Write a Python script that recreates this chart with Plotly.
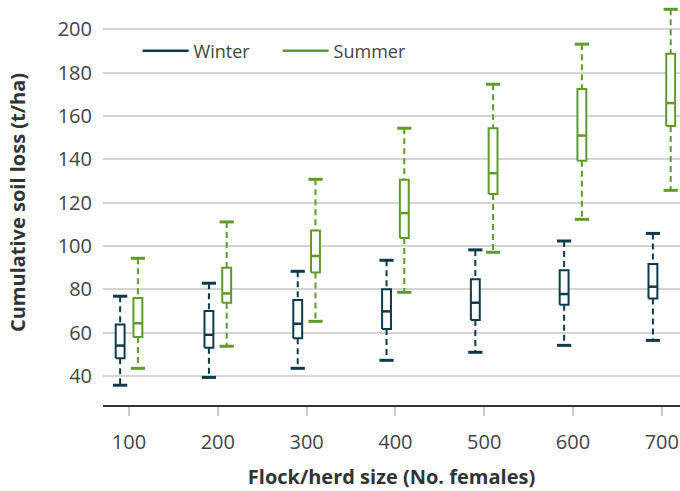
import plotly.graph_objects as go

categories = ["100", "200", "300", "400", "500", "600", "700"]

winter_low = [35.7, 39.3, 43.5, 47.2, 50.9, 54.1, 56.4]
winter_q1 = [48.1, 53.0, 57.4, 61.7, 65.8, 72.9, 75.8]
winter_med = [54.0, 59.0, 64.1, 69.8, 73.8, 77.8, 81.2]
winter_q3 = [63.7, 70.0, 75.1, 80.0, 84.6, 88.8, 91.7]
winter_high = [76.8, 82.8, 88.3, 93.4, 98.2, 102.3, 105.8]

summer_low = [43.5, 53.7, 65.2, 78.6, 97.1, 112.3, 125.7]
summer_q1 = [58.0, 73.8, 87.8, 103.7, 124.0, 139.4, 155.4]
summer_med = [64.3, 78.1, 95.4, 115.2, 133.6, 151.0, 166.0]
summer_q3 = [76.0, 90.0, 107.1, 130.6, 154.4, 172.5, 188.8]
summer_high = [94.3, 111.1, 130.8, 154.4, 174.7, 193.2, 209.3]

y_ticks = [40, 60, 80, 100, 120, 140, 160, 180, 200]

WINTER_COLOR = "#0e3b4b"
SUMMER_COLOR = "#5f9b2b"

OFFSET = 0.1
HALF_BOX = 0.05
HALF_CAP = 0.08

fig = go.Figure()


def add_series(name, color, low, q1, med, q3, high, off):
    wx, wy, cx, cy, bx, by, mx, my = [], [], [], [], [], [], [], []
    for i in range(len(categories)):
        c = i + off
        wx += [c, c, None, c, c, None]
        wy += [high[i], q3[i], None, q1[i], low[i], None]
        cx += [c - HALF_CAP, c + HALF_CAP, None, c - HALF_CAP, c + HALF_CAP, None]
        cy += [high[i], high[i], None, low[i], low[i], None]
        bx += [c - HALF_BOX, c + HALF_BOX, c + HALF_BOX, c - HALF_BOX, c - HALF_BOX, None]
        by += [q1[i], q1[i], q3[i], q3[i], q1[i], None]
        mx += [c - HALF_BOX, c + HALF_BOX, None]
        my += [med[i], med[i], None]
    fig.add_trace(go.Scatter(x=wx, y=wy, mode="lines", showlegend=False,
                             line=dict(color=color, width=2, dash="6px,4px"),
                             hoverinfo="skip"))
    fig.add_trace(go.Scatter(x=cx, y=cy, mode="lines", showlegend=False,
                             line=dict(color=color, width=3), hoverinfo="skip"))
    fig.add_trace(go.Scatter(x=bx, y=by, mode="lines", showlegend=False,
                             fill="toself", fillcolor="white",
                             line=dict(color=color, width=2), hoverinfo="skip"))
    fig.add_trace(go.Scatter(x=mx, y=my, mode="lines", name=name, showlegend=True,
                             line=dict(color=color, width=2.5), hoverinfo="skip"))


add_series("Winter", WINTER_COLOR, winter_low, winter_q1, winter_med, winter_q3, winter_high, -OFFSET)
add_series("Summer", SUMMER_COLOR, summer_low, summer_q1, summer_med, summer_q3, summer_high, OFFSET)

fig.update_layout(
    width=680, height=491,
    margin=dict(l=103, r=0, t=0, b=86, autoexpand=False),
    plot_bgcolor="white", paper_bgcolor="white",
    font=dict(family="Open Sans", color="#444444", size=20),
    legend=dict(orientation="h", x=0.06, y=0.874, xanchor="left", yanchor="middle",
                bgcolor="rgba(0,0,0,0)", font=dict(size=18, color="#444444"),
                itemwidth=46, entrywidth=79, entrywidthmode="pixels"),
    showlegend=True,
)

fig.update_xaxes(
    range=[-0.293, 6.205],
    tickmode="array", tickvals=list(range(len(categories))), ticktext=categories,
    showgrid=False, zeroline=False, automargin=False,
    showline=True, linecolor="#333333", linewidth=2,
    ticks="outside", ticklen=9, tickcolor="#cccccc", tickwidth=1.5,
    ticklabelstandoff=9,
    tickfont=dict(size=20, color="#444444"),
    title=dict(text="<b>Flock/herd size (No. females)</b>", font=dict(size=20, color="#333333"), standoff=16),
)

fig.update_yaxes(
    range=[26.56, 213.6],
    tickmode="array", tickvals=y_ticks,
    showgrid=True, gridcolor="#d4d4d4", gridwidth=1.5,
    zeroline=False, showline=False, automargin=False,
    ticks="", ticklabelstandoff=10,
    tickfont=dict(size=20, color="#444444"),
    title=dict(text="<b>Cumulative soil loss (t/ha)</b>", font=dict(size=20, color="#333333"), standoff=26),
)

fig.write_html(
    "out.html",
    config={"displayModeBar": False},
    post_script="document.body.style.margin='0';document.body.style.overflow='hidden';",
)
